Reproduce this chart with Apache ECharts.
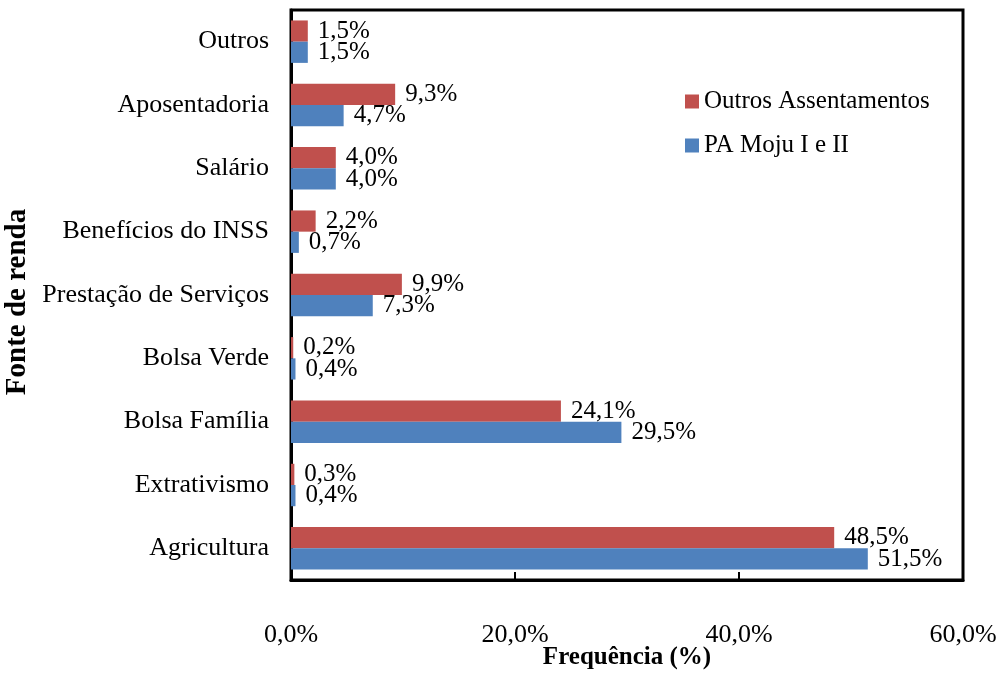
<!DOCTYPE html>
<html>
<head>
<meta charset="utf-8">
<script src="https://cdn.jsdelivr.net/npm/echarts@6/dist/echarts.min.js"></script>
<style>
  html, body { margin: 0; padding: 0; background: #fff; }
  #chart { width: 1008px; height: 674px; }
</style>
</head>
<body>
<div id="chart"></div>
<script>
// categorias de baixo para cima
const categories = ['Agricultura', 'Extrativismo', 'Bolsa Família', 'Bolsa Verde', 'Prestação de Serviços', 'Benefícios do INSS', 'Salário', 'Aposentadoria', 'Outros'];
const outrosAssentamentos = [48.5, 0.3, 24.1, 0.2, 9.9, 2.2, 4.0, 9.3, 1.5];
const paMoju = [51.5, 0.4, 29.5, 0.4, 7.3, 0.7, 4.0, 4.7, 1.5];
const xTicks = [0, 20, 40, 60];

const fmt = v => v.toFixed(1).replace('.', ',') + '%';
const font = 'Liberation Serif, Times New Roman, serif';

const myChart = echarts.init(document.getElementById('chart'));

const option = {
  animation: false,
  textStyle: { fontFamily: font, color: '#000' },
  grid: {
    left: 291, right: 45, top: 10, bottom: 94,
    outerBoundsMode: 'none',
    containLabel: false,
    show: true, borderColor: '#000', borderWidth: 3
  },
  legend: {
    orient: 'vertical',
    left: 680, top: 84,
    itemWidth: 14, itemHeight: 14, itemGap: 19,
    icon: 'rect',
    data: ['Outros Assentamentos', 'PA Moju I e II'],
    textStyle: { fontFamily: font, fontSize: 25, color: '#000' }
  },
  // títulos dos eixos
  graphic: [
    {
      type: 'text', x: 627, y: 658,
      style: { text: 'Frequência (%)', font: 'bold 25px ' + font, fill: '#000', textAlign: 'center', textVerticalAlign: 'middle' }
    },
    {
      type: 'text', x: 18, y: 302, rotation: Math.PI / 2,
      style: { text: 'Fonte de renda', font: 'bold 29px ' + font, fill: '#000', textAlign: 'center', textVerticalAlign: 'middle' }
    }
  ],
  xAxis: {
    type: 'value',
    min: xTicks[0], max: xTicks[xTicks.length - 1], interval: 20,
    axisLine: { show: true, lineStyle: { color: '#000', width: 3 } },
    axisTick: { show: true, inside: true, length: 8, lineStyle: { color: '#000', width: 2 } },
    splitLine: { show: false },
    axisLabel: { margin: 42, fontSize: 26, color: '#000', fontFamily: font, formatter: v => fmt(v) }
  },
  yAxis: {
    type: 'category',
    data: categories,
    axisLine: { show: true, lineStyle: { color: '#000', width: 3 } },
    axisTick: { show: false },
    axisLabel: { margin: 22, fontSize: 26, color: '#000', fontFamily: font }
  },
  series: [
    {
      name: 'Outros Assentamentos',
      type: 'bar',
      data: outrosAssentamentos,
      barGap: '0%',
      barCategoryGap: '33%',
      itemStyle: { color: '#C0504D' },
      label: { show: true, position: 'right', distance: 10, fontSize: 25, color: '#000', fontFamily: font, formatter: p => fmt(p.value) }
    },
    {
      name: 'PA Moju I e II',
      type: 'bar',
      data: paMoju,
      barGap: '0%',
      barCategoryGap: '33%',
      itemStyle: { color: '#4F81BD' },
      label: { show: true, position: 'right', distance: 10, fontSize: 25, color: '#000', fontFamily: font, formatter: p => fmt(p.value) }
    }
  ]
};

myChart.setOption(option);
</script>
</body>
</html>
